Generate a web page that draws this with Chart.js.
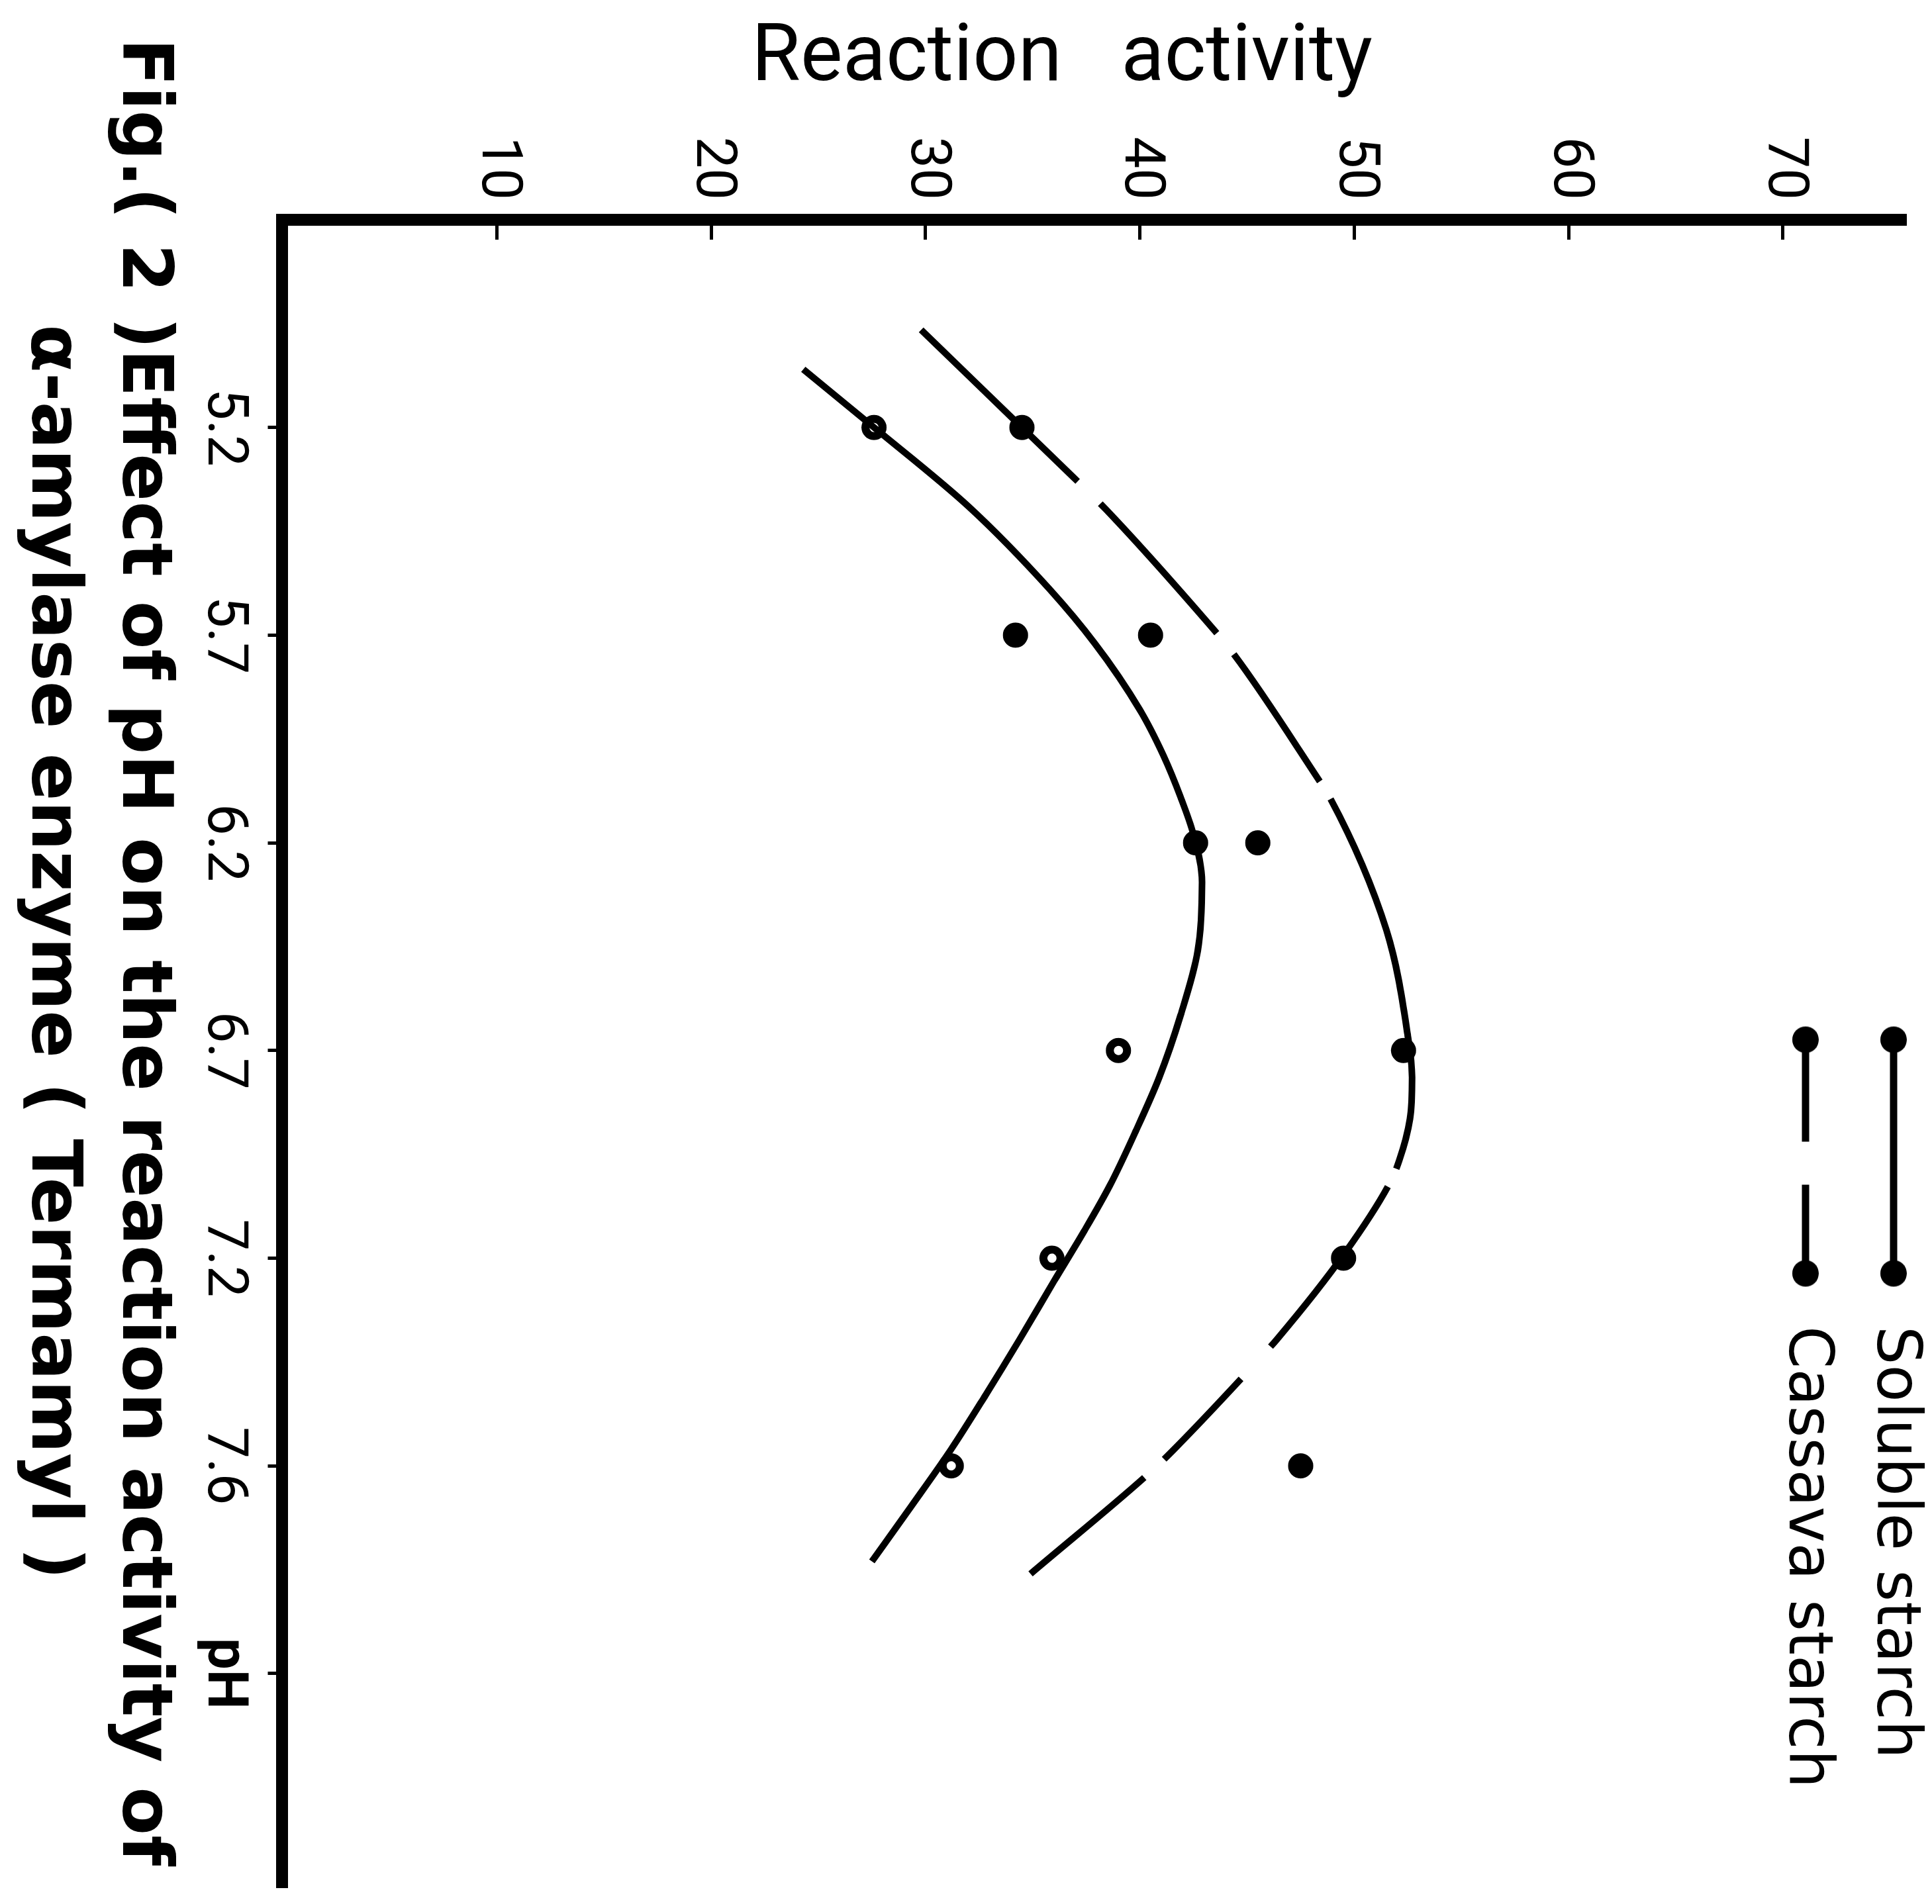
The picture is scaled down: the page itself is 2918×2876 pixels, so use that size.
<!DOCTYPE html>
<html>
<head>
<meta charset="utf-8">
<script src="https://cdn.jsdelivr.net/npm/chart.js@4.4.0/dist/chart.umd.min.js"></script>
<style>
html,body{margin:0;padding:0;background:#fff;overflow:hidden;width:2918px;height:2876px;}
#wrap{position:absolute;left:0;top:0;width:2876px;height:2918px;transform-origin:0 0;transform:translate(2918px,0) rotate(90deg);background:#fff;}
canvas{display:block;}
</style>
</head>
<body>
<div id="wrap"><canvas id="c" width="2876" height="2918"></canvas></div>
<script>
// ---- data ----
const phLabels = ['5.2', '5.7', '6.2', '6.7', '7.2', '7.6', 'pH'];
const activityTicks = [10, 20, 30, 40, 50, 60, 70];
const seriesNames = ['Soluble starch', 'Cassava starch'];
const solubleValues = [27.6, 34.2, 42.6, 39.0, 35.9, 31.2];
const cassavaValues = [34.5, 40.5, 45.5, 52.3, 49.5, 47.5];
const solubleOpen = [true, false, false, true, true, true];
const solubleCurvePos = [0.72, 1.0, 1.38, 1.78, 2.04, 2.36, 2.58, 2.78, 2.96, 3.19, 3.52, 3.83, 4.13, 4.39, 4.65, 4.87, 5.11, 5.39, 5.66, 5.92, 6.20, 6.46];
const solubleCurveVal = [24.3, 27.6, 32.0, 35.8, 37.9, 40.0, 41.1, 41.9, 42.5, 42.9, 42.7, 41.9, 40.9, 39.8, 38.6, 37.4, 36.0, 34.4, 32.8, 31.2, 29.3, 27.5];
const cassavaCurvePos = [0.53, 1.0, 1.24, 1.35, 1.98, 2.08, 2.69, 2.77, 3.42, 3.93, 4.13, 4.33, 4.53, 4.63, 4.97, 5.39, 5.55, 5.92, 6.02, 6.52];
const cassavaCurveVal = [29.8, 34.5, 36.9, 38.0, 43.5, 44.3, 48.3, 48.8, 51.5, 52.5, 52.7, 52.6, 52.1, 51.7, 49.6, 46.4, 45.0, 41.6, 40.6, 34.9];
const captionLines = ['Fig.( 2 )Effect of pH on the reaction activity of', 'α-amylase enzyme ( Termamyl )'];
const yTitle = 'Reaction   activity   ';

// ---- styles ----
const INK = '#000';
const cassavaDash = [329, 48, 263, 41, 232, 31, 583, 30, 300, 66, 168, 41, 260, 100];

function legendSymbol(dashed) {
  const c = document.createElement('canvas');
  c.width = 397; c.height = 44;
  const g = c.getContext('2d');
  g.strokeStyle = INK; g.fillStyle = INK; g.lineWidth = 11;
  g.beginPath();
  if (dashed) { g.moveTo(22, 22); g.lineTo(176, 22); g.moveTo(241, 22); g.lineTo(375, 22); }
  else { g.moveTo(22, 22); g.lineTo(375, 22); }
  g.stroke();
  [22, 375].forEach(x => { g.beginPath(); g.arc(x, 22, 20, 0, Math.PI * 2); g.fill(); });
  return c;
}
const legendSymbols = [legendSymbol(false), legendSymbol(true)];

const toPoints = (xs, ys) => xs.map((x, i) => ({x: x, y: ys[i]}));

const whiteBg = {
  id: 'whiteBg',
  beforeDraw(chart) {
    const ctx = chart.ctx;
    ctx.save(); ctx.fillStyle = '#fff'; ctx.fillRect(0, 0, chart.width, chart.height); ctx.restore();
  }
};
const legendPlacer = {
  id: 'legendPlacer',
  afterLayout(chart) {
    const lg = chart.legend;
    if (!lg) return;
    lg.left = 1496; lg.top = -29;
    lg.right = chart.width; lg.bottom = lg.top + 420;
    lg.width = lg.right - lg.left; lg.height = lg.bottom - lg.top;
  }
};

Chart.defaults.color = INK;
Chart.defaults.font.family = 'Roboto';

new Chart(document.getElementById('c'), {
  type: 'line',
  data: {
    datasets: [
      {
        label: seriesNames[0],
        data: toPoints(solubleCurvePos, solubleCurveVal),
        borderColor: INK, borderWidth: 10, pointRadius: 0, fill: false,
        cubicInterpolationMode: 'monotone'
      },
      {
        label: seriesNames[1],
        data: toPoints(cassavaCurvePos, cassavaCurveVal),
        borderColor: INK, borderWidth: 10, pointRadius: 0, fill: false,
        borderDash: cassavaDash,
        cubicInterpolationMode: 'monotone'
      },
      {
        label: seriesNames[0] + ' (measured)',
        data: solubleValues.map((v, i) => ({x: i + 1, y: v})),
        showLine: false,
        pointRadius: 13, pointHoverRadius: 13, pointBorderWidth: 12,
        pointBorderColor: INK,
        pointBackgroundColor: (c) => solubleOpen[c.dataIndex] ? '#fff' : INK
      },
      {
        label: seriesNames[1] + ' (measured)',
        data: cassavaValues.map((v, i) => ({x: i + 1, y: v})),
        showLine: false,
        pointRadius: 13, pointHoverRadius: 13, pointBorderWidth: 12,
        pointBorderColor: INK, pointBackgroundColor: INK
      }
    ]
  },
  options: {
    responsive: false,
    animation: false,
    devicePixelRatio: 1,
    events: [],
    layout: {padding: {top: 47, right: 0, bottom: 0, left: 0}},
    scales: {
      x: {
        type: 'linear', min: 0, max: 8.03,
        afterFit: (s) => { s.height = 135; s.paddingLeft = 0; s.paddingRight = 0; },
        afterBuildTicks: (s) => { s.ticks = phLabels.map((l, i) => ({value: i + 1})); },
        border: {display: true, color: INK, width: 18},
        grid: {display: true, drawOnChartArea: false, drawTicks: true, tickLength: 22, tickWidth: 5, tickColor: INK},
        ticks: {
          color: INK, autoSkip: false, maxRotation: 0, minRotation: 0, padding: 17,
          font: (c) => ({family: 'Roboto', size: 85, weight: (c.tick && c.tick.label === 'pH') ? 'bold' : 'normal'}),
          callback: (v, i) => phLabels[i]
        }
      },
      y: {
        type: 'linear', min: 0, max: 75.5,
        afterFit: (s) => { s.width = 332; s.paddingTop = 0; s.paddingBottom = 0; },
        afterBuildTicks: (s) => { s.ticks = activityTicks.map(v => ({value: v})); },
        border: {display: true, color: INK, width: 18},
        grid: {display: true, drawOnChartArea: false, drawTicks: true, tickLength: -30, tickWidth: 5, tickColor: INK},
        ticks: {color: INK, padding: 60, font: {family: 'Roboto', size: 85}, callback: (v) => String(v)},
        title: {display: true, text: yTitle, color: INK, font: {family: 'Roboto', size: 120}, padding: {top: 19, bottom: 0}}
      }
    },
    plugins: {
      tooltip: {enabled: false},
      legend: {
        display: true, position: 'chartArea', align: 'start',
        labels: {
          usePointStyle: true, pointStyleWidth: 420, padding: 41, color: INK,
          font: {family: 'DejaVu Sans', size: 92},
          generateLabels: () => seriesNames.map((name, i) => ({
            text: name, pointStyle: legendSymbols[i], fillStyle: INK, strokeStyle: INK,
            lineWidth: 0, hidden: false, datasetIndex: i, fontColor: INK
          }))
        }
      },
      title: {
        display: true, position: 'bottom', align: 'center', fullSize: true,
        text: captionLines, color: INK,
        font: {family: 'DejaVu Sans', size: 106, weight: 'bold', lineHeight: 1.29},
        padding: {top: 10, bottom: 8}
      }
    }
  },
  plugins: [whiteBg, legendPlacer]
});
</script>
</body>
</html>
